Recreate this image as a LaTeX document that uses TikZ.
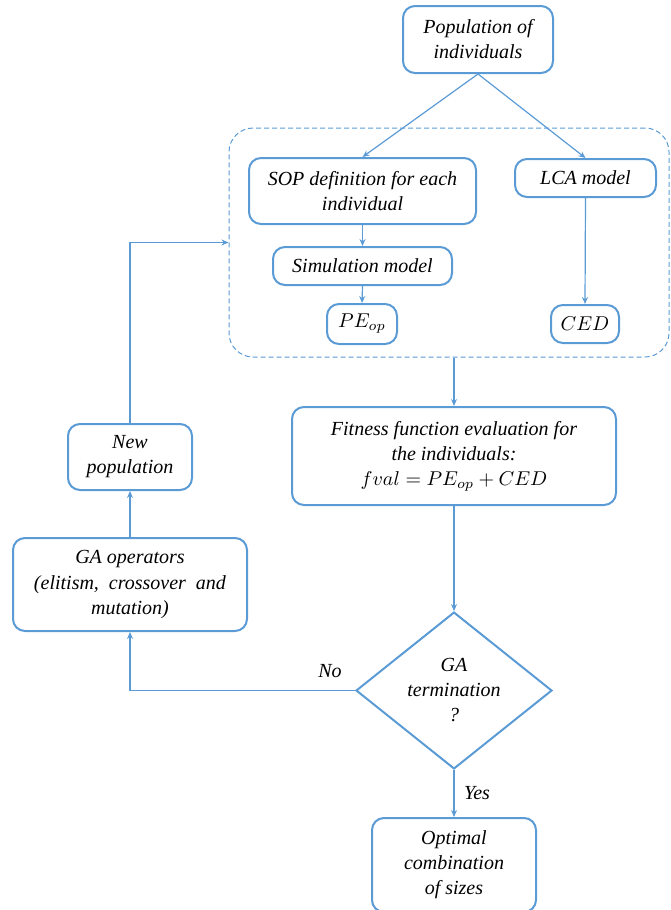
\documentclass[tikz,border=0pt]{standalone}
\usepackage{fontspec}
\setmainfont{Liberation Serif}
\usepackage{amsmath}
\usepackage{tikz}
\usetikzlibrary{arrows.meta,shapes.geometric}
\definecolor{boxblue}{RGB}{91,155,213}

\begin{document}
\begin{tikzpicture}[x=0.5pt, y=-0.5pt, align=center,
  box/.style={draw=boxblue, line width=1pt, rounded corners=6pt, inner sep=0pt, font=\fontsize{10}{12.5}\selectfont\itshape},
  decision/.style={box, diamond, rounded corners=0pt},
  group/.style={draw=boxblue, line width=0.5pt, dash pattern=on 2.5pt off 1.5pt, rounded corners=12pt},
  arr/.style={draw=boxblue, line width=0.6pt, -{Stealth[length=3.5pt,width=3pt]}},
  lbl/.style={font=\fontsize{10}{12.5}\selectfont\itshape}]

\useasboundingbox (0, 0) rectangle (670, 910);

\node[group, minimum width=220pt, minimum height=114.5pt] (models) at (449, 242.5) {};

\node[box, minimum width=75pt, minimum height=33.5pt] (population) at (478, 39.5) {Population of\\individuals};
\node[box, minimum width=113.5pt, minimum height=33pt] (sop) at (362.5, 191) {SOP definition for each\\individual};
\node[box, minimum width=70.5pt, minimum height=19pt] (lca) at (585.5, 178) {LCA model};
\node[box, minimum width=89.5pt, minimum height=19pt] (simulation) at (362.5, 266) {Simulation model};
\node[box, minimum width=35pt, minimum height=20pt] (peop) at (362, 324) {$PE_{op}$};
\node[box, minimum width=34pt, minimum height=19pt] (ced) at (585, 324) {$CED$};
\node[box, minimum width=162pt, minimum height=49pt] (fitness) at (454, 456) {Fitness function evaluation for\\the individuals:\\$fval = PE_{op} + CED$};
\node[box, minimum width=62pt, minimum height=33pt] (newpop) at (130, 457) {New\\population};
\node[box, minimum width=117pt, minimum height=46.5pt] (operators) at (130, 584.5) {GA operators\\(elitism,\ \ crossover\ \ and\\mutation)};
\node[decision, minimum width=98pt, minimum height=74.5pt] (termination) at (454, 690.5) {GA\\termination\\?};
\node[box, minimum width=82pt, minimum height=47pt] (optimal) at (454, 865) {Optimal\\combination\\of sizes};
\node[lbl] (no) at (330, 671) {No};
\node[lbl] (yes) at (477, 793) {Yes};

\draw[arr] (population.south) -- (sop.north);
\draw[arr] (population.south) -- (lca.north);
\draw[arr] (sop.south) -- (simulation.north);
\draw[arr] (simulation.south) -- (peop.north);
\draw[arr] (lca.south) -- (ced.north);
\draw[arr] (fitness.north |- models.south) -- (fitness.north);
\draw[arr] (fitness.south) -- (termination.north);
\draw[arr] (termination.south) -- (optimal.north);
\draw[arr] (termination.west) -| (operators.south);
\draw[arr] (operators.north) -- (newpop.south);
\draw[arr] (newpop.north) |- (models.west);

\end{tikzpicture}
\end{document}
